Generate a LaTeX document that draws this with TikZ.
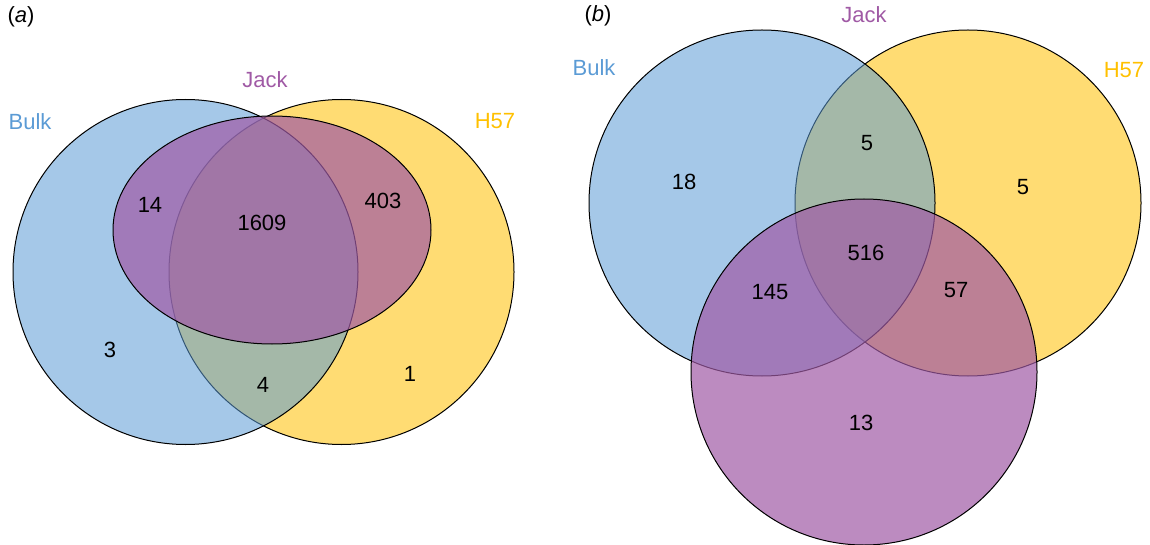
\documentclass[tikz,border=0pt]{standalone}
\usepackage{fontspec}
\setmainfont{Liberation Sans}
\usepackage{tikz}
\usetikzlibrary{positioning}
\definecolor{mblue}{RGB}{91, 155, 213}
\definecolor{myellow}{RGB}{255, 192, 0}
\definecolor{mpurple}{RGB}{160, 90, 165}
\tikzset{set/.style = {draw = black, line width = 1pt},
         cnt/.style = {inner sep = 0pt, font = \fontsize{22}{26}\selectfont},
         lbl/.style = {cnt, text = #1}}

\begin{document}
\begin{tikzpicture}[x = 1pt, y = -1pt]
      \useasboundingbox (0, 0) rectangle (1150, 545);

      % (a)
      \draw [set, fill = myellow, fill opacity = 0.55] (341.5, 272) circle (172.5pt);
      \draw [set, fill = mblue, fill opacity = 0.55] (185.5, 272) circle (172.5pt);
      \draw [set, fill = mpurple, fill opacity = 0.7] (272, 230) ellipse (159pt and 114pt);

      \node [cnt] (tagA) at (21, 17) {(\textit{a})};
      \node [lbl = mblue] (bulkA) at (30, 122) {Bulk};
      \node [lbl = mpurple] (jackA) at (265, 80) {Jack};
      \node [lbl = myellow] (hA) at (495, 121) {H57};

      \node [cnt] (aB) at (110, 350) {3};
      \node [cnt] (aBJ) at (150, 205) {14};
      \node [cnt] (aBJH) at (262, 223) {1609};
      \node [cnt] (aJH) at (383, 201) {403};
      \node [cnt] (aBH) at (263, 385) {4};
      \node [cnt] (aH) at (410, 374) {1};

      % (b)
      \draw [set, fill = myellow, fill opacity = 0.55] (968, 203) circle (173pt);
      \draw [set, fill = mblue, fill opacity = 0.55] (762, 203) circle (173pt);
      \draw [set, fill = mpurple, fill opacity = 0.7] (864, 372) circle (173pt);

      \node [cnt] (tagB) at (598, 16) {(\textit{b})};
      \node [lbl = mblue] (bulkB) at (594, 68) {Bulk};
      \node [lbl = mpurple] (jackB) at (864, 15) {Jack};
      \node [lbl = myellow] (hB) at (1124, 70) {H57};

      \node [cnt] (bB) at (684, 182) {18};
      \node [cnt] (bBH) at (867, 143) {5};
      \node [cnt] (bH) at (1023, 187) {5};
      \node [cnt] (bBJH) at (866, 253) {516};
      \node [cnt] (bBJ) at (770, 292) {145};
      \node [cnt] (bJH) at (956, 290) {57};
      \node [cnt] (bJ) at (861, 423) {13};
    \end{tikzpicture}
\end{document}
